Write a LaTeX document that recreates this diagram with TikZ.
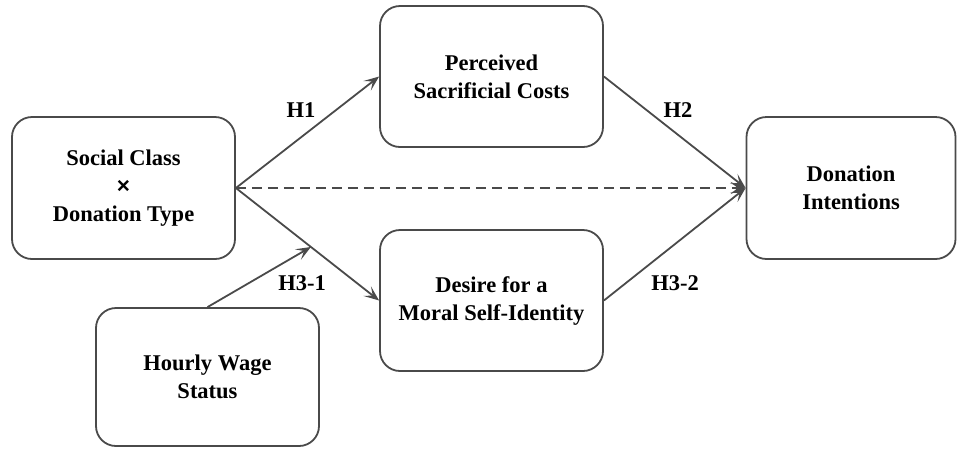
\documentclass[tikz,border=0pt]{standalone}
\usepackage{fontspec}
\setmainfont{Liberation Serif}[BoldFont={Liberation Serif Bold}]
\newfontfamily\symfont{Liberation Sans}
\usetikzlibrary{arrows.meta,calc}
\definecolor{lc}{HTML}{4A4A4A}
\tikzset{
  box/.style={draw=lc, line width=1.8pt, rounded corners=20pt, align=center,
    font=\rmfamily\fontsize{22.5}{28}\selectfont\bfseries, inner sep=0pt},
  link/.style={draw=lc, line width=1.8pt, -{Stealth[length=15pt,width=12pt,inset=7pt]}},
  hlab/.style={font=\rmfamily\fontsize{22.5}{26}\selectfont\bfseries, inner sep=0pt}
}
\begin{document}
\begin{tikzpicture}[x=1pt,y=-1pt]
\useasboundingbox (0,0) rectangle (957,448);
\node[box, minimum width=223pt, minimum height=142pt] (sc) at (123.5,188) {Social Class\\{\symfont ×}\\Donation Type};
\node[box, minimum width=223pt, minimum height=141pt] (pc) at (491.5,76.5) {Perceived\\Sacrificial Costs};
\node[box, minimum width=209pt, minimum height=142pt] (di) at (851,188) {Donation\\Intentions};
\node[box, minimum width=223pt, minimum height=141pt] (dm) at (491.5,300.5) {Desire for a\\Moral Self-Identity};
\node[box, minimum width=223pt, minimum height=138pt] (hw) at (207.5,377) {Hourly Wage\\Status};
\draw[link] (sc.east) -- (pc.west);
\draw[link] (pc.east) -- (di.west);
\draw[link, dash pattern=on 10pt off 6pt] (sc.east) -- (di.west);
\draw[link] (sc.east) -- (dm.west);
\draw[link] (dm.east) -- (di.west);
\coordinate (mod) at ($(sc.east)!0.524!(dm.west)$);
\draw[link] (hw.north) -- (mod);
\node[hlab] (h1) at (301,110) {H1};
\node[hlab] (h2) at (678,110) {H2};
\node[hlab] (h31) at (302,283) {H3-1};
\node[hlab] (h32) at (675,283) {H3-2};
\end{tikzpicture}
\end{document}
